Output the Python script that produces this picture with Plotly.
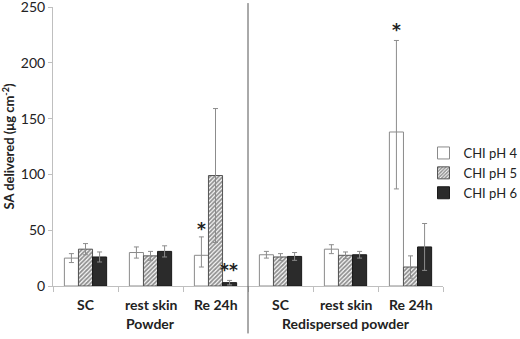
import plotly.graph_objects as go

categories = ["SC", "rest skin", "Re 24h", "SC", "rest skin", "Re 24h"]
groups = ["Powder", "Redispersed powder"]
series_names = ["CHI pH 4", "CHI pH 5", "CHI pH 6"]

ph4 = [25, 30, 27.5, 28, 33, 138]
ph4_err_up = [4, 5, 16.5, 3, 4, 82]
ph4_err_down = [4, 5, 10.5, 3, 4, 51]

ph5 = [33, 27, 99, 26, 27.5, 17]
ph5_err = [5, 4, 60, 3, 3, 10]

ph6 = [26, 31, 3, 26.5, 28, 35]
ph6_err = [4.5, 5, 2, 3.5, 3, 21]

y_ticks = [0, 50, 100, 150, 200, 250]

x = list(range(len(categories)))
font = "Lato"
err_style = dict(color="#8c8c8c", thickness=1, width=2.5)

fig = go.Figure()
fig.add_trace(go.Bar(
    x=x, y=ph4, name=series_names[0],
    marker=dict(color="white", line=dict(color="#8a8a8a", width=1)),
    error_y=dict(type="data", array=ph4_err_up, arrayminus=ph4_err_down, symmetric=False, **err_style),
))
fig.add_trace(go.Bar(
    x=x, y=ph5, name=series_names[1],
    marker=dict(color="white", line=dict(color="#555555", width=1),
                pattern=dict(shape="/", fgcolor="#222222", bgcolor="white", size=3, solidity=0.62)),
    error_y=dict(type="data", array=ph5_err, **err_style),
))
fig.add_trace(go.Bar(
    x=x, y=ph6, name=series_names[2],
    marker=dict(color="#2b2b2b", line=dict(color="#1a1a1a", width=1)),
    error_y=dict(type="data", array=ph6_err, **err_style),
))

off = 0.215
star_font = dict(size=17, color="#222", family="DejaVu Sans")
# significance markers
fig.add_annotation(x=2 - off, y=51, text="<b>*</b>", showarrow=False, font=star_font)
fig.add_annotation(x=2 + off, y=14, text="<b>**</b>", showarrow=False, font=star_font)
fig.add_annotation(x=5 - off, y=229, text="<b>*</b>", showarrow=False, font=star_font)

# category labels (paper height = 279 px)
for i, c in enumerate(categories):
    fig.add_annotation(x=i, y=-0.068, xref="x", yref="paper", yanchor="middle", text="<b>%s</b>" % c,
                       showarrow=False, font=dict(size=14, color="#222", family=font))
fig.add_annotation(x=1, y=-0.136, xref="x", yref="paper", yanchor="middle", text="<b>%s</b>" % groups[0],
                   showarrow=False, font=dict(size=14, color="#222", family=font))
fig.add_annotation(x=4, y=-0.136, xref="x", yref="paper", yanchor="middle", text="<b>%s</b>" % groups[1],
                   showarrow=False, font=dict(size=14, color="#222", family=font))

# separator line
fig.add_shape(type="line", xref="x", yref="paper", x0=2.5, x1=2.5, y0=-0.17, y1=1.014,
              line=dict(color="#555555", width=1))

fig.update_layout(
    width=520, height=339,
    margin=dict(l=53, r=77, t=7, b=53, autoexpand=False),
    paper_bgcolor="white", plot_bgcolor="white",
    barmode="group", bargap=0.35, bargroupgap=0,
    font=dict(family=font, size=14, color="#222"),
    legend=dict(x=0.95, y=0.405, xanchor="left", yanchor="middle",
                font=dict(size=13, family=font, color="#222"),
                itemwidth=30, tracegroupgap=0, bgcolor="rgba(0,0,0,0)"),
    showlegend=True,
)
fig.update_xaxes(range=[-0.5, 5.5], showticklabels=False, tickvals=[], showline=True,
                 linecolor="#bfbfbf", linewidth=1, showgrid=False, zeroline=False,
                 minor=dict(tick0=0.5, dtick=1, ticks="outside", ticklen=5, tickcolor="#bfbfbf"))
fig.update_yaxes(range=[0, 250], tickvals=y_ticks, showline=True, linecolor="#bfbfbf",
                 linewidth=1, showgrid=False, zeroline=False, ticks="outside", ticklen=4,
                 tickcolor="#bfbfbf", tickfont=dict(size=14), ticklabeloverflow="allow",
                 title=dict(text="<b>SA delivered (μg cm<sup>-2</sup>)</b>", font=dict(size=13), standoff=6))

fig.write_html("out.html", config={"displayModeBar": False},
               post_script="document.body.style.margin='0';document.body.style.overflow='hidden';")
